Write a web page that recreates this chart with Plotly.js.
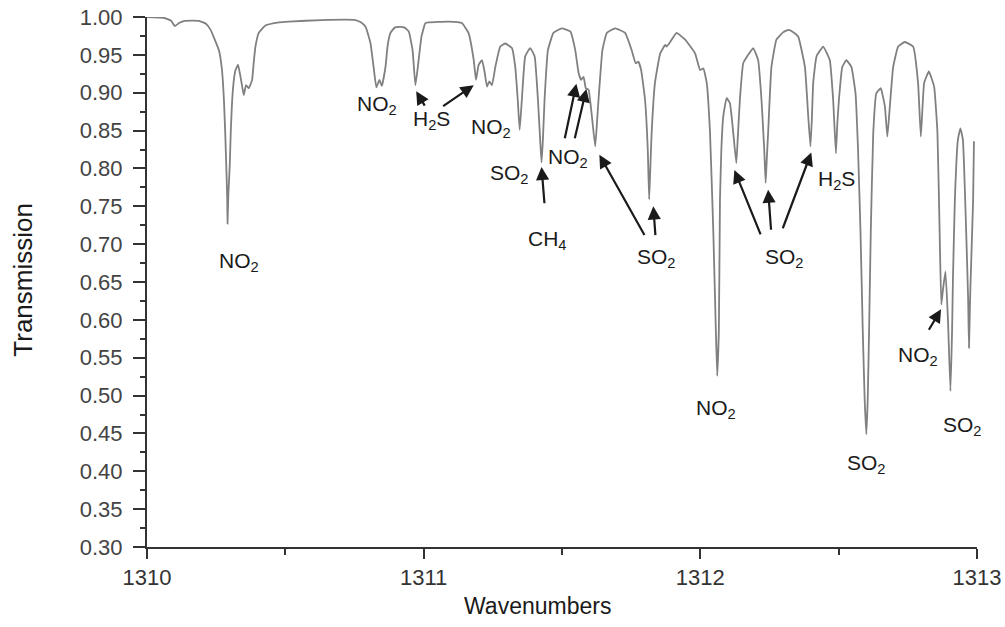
<!DOCTYPE html>
<html>
<head>
<meta charset="utf-8">
<script src="https://cdn.plot.ly/plotly-3.0.1.min.js"></script>
<style>html,body{margin:0;padding:0;background:#fff;}#chart{width:1005px;height:627px;}</style>
</head>
<body>
<div id="chart"></div>
<script>
// Wavenumber (cm^-1)
const wavenumber = [
1310.000,1310.061,1310.087,1310.101,1310.116,1310.137,1310.188,1310.213,1310.230,1310.245,
1310.260,1310.271,1310.278,1310.283,1310.287,1310.290,1310.291,1310.294,1310.299,1310.303,
1310.308,1310.314,1310.320,1310.329,1310.338,1310.345,1310.350,1310.358,1310.368,1310.380,
1310.386,1310.392,1310.404,1310.429,1310.477,1310.513,1310.632,1310.753,1310.773,1310.790,
1310.800,1310.808,1310.819,1310.829,1310.840,1310.849,1310.862,1310.870,1310.880,1310.895,
1310.916,1310.931,1310.946,1310.960,1310.970,1310.979,1310.992,1311.006,1311.018,1311.090,
1311.138,1311.162,1311.181,1311.189,1311.199,1311.211,1311.220,1311.229,1311.237,1311.247,
1311.259,1311.277,1311.295,1311.319,1311.331,1311.340,1311.347,1311.355,1311.367,1311.385,
1311.401,1311.413,1311.421,1311.426,1311.431,1311.437,1311.449,1311.469,1311.499,1311.530,
1311.548,1311.560,1311.569,1311.578,1311.586,1311.596,1311.608,1311.620,1311.626,1311.632,
1311.646,1311.662,1311.692,1311.728,1311.752,1311.766,1311.776,1311.786,1311.800,1311.810,
1311.815,1311.819,1311.824,1311.836,1311.855,1311.873,1311.878,1311.891,1311.914,1311.945,
1311.981,1311.999,1312.011,1312.023,1312.035,1312.047,1312.056,1312.061,1312.067,1312.071,
1312.076,1312.083,1312.095,1312.107,1312.119,1312.130,1312.135,1312.143,1312.155,1312.173,
1312.191,1312.209,1312.221,1312.231,1312.236,1312.240,1312.245,1312.257,1312.275,1312.300,
1312.318,1312.336,1312.354,1312.378,1312.390,1312.398,1312.403,1312.408,1312.420,1312.444,
1312.468,1312.480,1312.490,1312.495,1312.501,1312.513,1312.528,1312.546,1312.561,1312.570,
1312.579,1312.587,1312.594,1312.600,1312.605,1312.610,1312.616,1312.625,1312.636,1312.652,
1312.667,1312.676,1312.685,1312.697,1312.715,1312.739,1312.769,1312.787,1312.797,1312.809,
1312.826,1312.845,1312.857,1312.865,1312.871,1312.877,1312.886,1312.895,1312.904,1312.910,
1312.913,1312.920,1312.931,1312.940,1312.949,1312.961,1312.968,1312.971,1312.975,1312.977,
1312.986,1312.989
];
// Transmission
const transmission = [
1.000,0.999,0.995,0.988,0.992,0.995,0.995,0.991,0.983,0.970,
0.956,0.930,0.891,0.844,0.798,0.759,0.727,0.765,0.803,0.851,
0.891,0.917,0.930,0.937,0.921,0.906,0.897,0.910,0.906,0.917,
0.941,0.961,0.979,0.989,0.993,0.994,0.996,0.996,0.993,0.987,
0.976,0.965,0.934,0.907,0.917,0.909,0.934,0.963,0.979,0.986,
0.987,0.986,0.981,0.956,0.910,0.934,0.974,0.992,0.993,0.994,
0.992,0.979,0.943,0.917,0.937,0.943,0.928,0.908,0.915,0.910,
0.934,0.961,0.965,0.959,0.934,0.891,0.851,0.891,0.948,0.959,
0.948,0.891,0.838,0.808,0.838,0.891,0.956,0.979,0.985,0.981,
0.956,0.926,0.917,0.921,0.906,0.904,0.869,0.829,0.858,0.891,
0.956,0.979,0.985,0.979,0.956,0.939,0.941,0.930,0.891,0.825,
0.759,0.798,0.847,0.913,0.952,0.963,0.961,0.967,0.979,0.970,
0.952,0.930,0.932,0.913,0.847,0.715,0.587,0.526,0.587,0.759,
0.825,0.869,0.893,0.886,0.847,0.807,0.838,0.891,0.939,0.950,
0.959,0.943,0.891,0.825,0.781,0.811,0.847,0.934,0.970,0.980,
0.983,0.980,0.974,0.934,0.869,0.829,0.864,0.913,0.948,0.961,
0.943,0.891,0.820,0.858,0.891,0.934,0.943,0.934,0.899,0.825,
0.715,0.587,0.495,0.449,0.495,0.587,0.715,0.847,0.899,0.906,
0.882,0.842,0.882,0.934,0.961,0.967,0.961,0.913,0.842,0.913,
0.928,0.908,0.847,0.715,0.620,0.640,0.664,0.601,0.506,0.587,
0.653,0.759,0.838,0.853,0.838,0.715,0.627,0.563,0.627,0.653,
0.759,0.836
];
const yTickVals = [0.30,0.35,0.40,0.45,0.50,0.55,0.60,0.65,0.70,0.75,0.80,0.85,0.90,0.95,1.00];
const xTickVals = [1310,1311,1312,1313];

// Species labels
const labelText = ['NO<sub>2</sub>','NO<sub>2</sub>','H<sub>2</sub>S','NO<sub>2</sub>','SO<sub>2</sub>','CH<sub>4</sub>','NO<sub>2</sub>',
  'SO<sub>2</sub>','SO<sub>2</sub>','H<sub>2</sub>S','NO<sub>2</sub>','SO<sub>2</sub>','NO<sub>2</sub>','SO<sub>2</sub>'];
const labelX = [1310.332,1310.830,1311.029,1311.242,1311.310,1311.448,1311.523,1311.841,1312.303,1312.491,1312.058,1312.599,1312.787,1312.946];
const labelY = [0.677,0.884,0.864,0.854,0.792,0.706,0.814,0.682,0.682,0.785,0.482,0.409,0.552,0.460];

// Arrows: tail -> head
const arrowTailX = [1311.007,1311.065,1311.437,1311.509,1311.545,1311.801,1311.838,1312.220,1312.256,1312.296,1312.823];
const arrowTailY = [0.881,0.881,0.752,0.838,0.838,0.710,0.710,0.711,0.717,0.719,0.585];
const arrowHeadX = [1310.973,1311.181,1311.426,1311.552,1311.588,1311.635,1311.830,1312.123,1312.245,1312.401,1312.870];
const arrowHeadY = [0.902,0.910,0.802,0.912,0.905,0.818,0.750,0.798,0.772,0.821,0.614];

const annFont = {family: 'Liberation Sans, Arial, sans-serif', size: 21, color: '#1a1a1a'};
const annotations = [];
for (let i = 0; i < labelText.length; i++) {
  annotations.push({x: labelX[i], y: labelY[i], xref: 'x', yref: 'y', text: labelText[i], showarrow: false, font: annFont});
}
for (let i = 0; i < arrowTailX.length; i++) {
  annotations.push({x: arrowHeadX[i], y: arrowHeadY[i], ax: arrowTailX[i], ay: arrowTailY[i],
    xref: 'x', yref: 'y', axref: 'x', ayref: 'y', text: '', showarrow: true,
    arrowhead: 2, arrowsize: 1.2, arrowwidth: 2.2, arrowcolor: '#1a1a1a'});
}
annotations.push({xref: 'paper', yref: 'paper', x: 0.471, y: -0.112, yanchor: 'middle', xanchor: 'center', showarrow: false,
  text: 'Wavenumbers', font: {family: 'Liberation Sans, Arial, sans-serif', size: 23, color: '#1a1a1a'}});
annotations.push({xref: 'paper', yref: 'paper', x: -0.149, y: 0.505, xanchor: 'center', yanchor: 'middle', showarrow: false,
  textangle: -90, text: 'Transmission', font: {family: 'Liberation Sans, Arial, sans-serif', size: 26, color: '#1a1a1a'}});

const trace = {x: wavenumber, y: transmission, type: 'scatter', mode: 'lines',
  line: {color: '#808080', width: 1.8, shape: 'spline', smoothing: 0.35}, hoverinfo: 'x+y'};

const layout = {
  width: 1005, height: 627,
  margin: {l: 147, r: 28, t: 17, b: 80},
  paper_bgcolor: '#fff', plot_bgcolor: '#fff',
  showlegend: false,
  font: {family: 'Liberation Sans, Arial, sans-serif', color: '#333'},
  xaxis: {range: [1310, 1313], tickvals: xTickVals, ticktext: xTickVals.map(String),
    showgrid: false, zeroline: false, showline: true, linecolor: '#333', linewidth: 2,
    ticks: 'outside', ticklen: 10, tickwidth: 2, tickcolor: '#333', ticklabelstandoff: 0,
    tickfont: {size: 22, color: '#333'},
    minor: {dtick: 0.5, tick0: 1310, ticks: 'outside', ticklen: 6, tickwidth: 2, tickcolor: '#333'}},
  yaxis: {range: [0.30, 1.00], tickvals: yTickVals, ticktext: yTickVals.map(v => v.toFixed(2)),
    showgrid: false, zeroline: false, showline: true, linecolor: '#333', linewidth: 2,
    ticks: 'outside', ticklen: 12, tickwidth: 2, tickcolor: '#333', ticklabelstandoff: 6,
    tickfont: {size: 22, color: '#444'},
    minor: {dtick: 0.025, tick0: 0.30, ticks: 'outside', ticklen: 5, tickwidth: 2, tickcolor: '#333'}},
  annotations: annotations
};

Plotly.newPlot('chart', [trace], layout, {displayModeBar: false, staticPlot: true});
</script>
</body>
</html>
